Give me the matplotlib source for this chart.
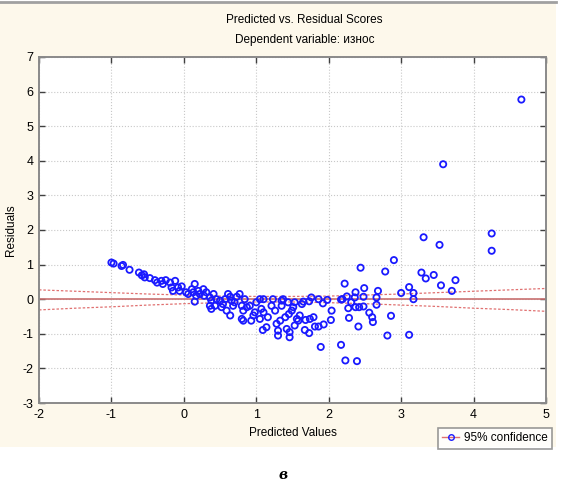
import numpy as np
import matplotlib
matplotlib.use("Agg")
from matplotlib import pyplot as plt
from matplotlib.lines import Line2D
from matplotlib.patches import Rectangle

plt.rcParams["font.family"] = ["Liberation Sans", "DejaVu Sans"]
plt.rcParams["axes.unicode_minus"] = False

# Predicted values (x) and residuals (y)
pred = [
    -1.00, -0.97, -0.86, -0.84, -0.75, -0.62, -0.58, -0.54, -0.55, -0.47,
    -0.40, -0.37, -0.31, -0.29, -0.25, -0.19, -0.17, -0.12, -0.15, -0.08,
    -0.06, -0.03, 0.03, 0.06, 0.11, 0.15, 0.13, 0.17, 0.20, 0.22,
    0.15, 0.27, 0.28, 0.31, 0.36, 0.38, 0.41, 0.36, 0.38, 0.43,
    0.45, 0.50, 0.52, 0.54, 0.57, 0.61, 0.64, 0.66, 0.68, 0.59,
    0.64, 0.70, 0.73, 0.77, 0.80, 0.82, 0.84, 0.80, 0.82, 0.87,
    0.91, 0.93, 0.96, 0.98, 1.00, 1.05, 1.05, 1.07, 1.10, 1.10,
    1.09, 1.14, 1.16, 1.21, 1.23, 1.26, 1.28, 1.30, 1.30, 1.33,
    1.35, 1.35, 1.37, 1.40, 1.42, 1.44, 1.45, 1.46, 1.46, 1.49,
    1.51, 1.53, 1.53, 1.56, 1.58, 1.60, 1.63,
    1.65, 1.73, 1.76, 1.79, 1.68, 1.74, 1.81, 1.86, 1.93, 1.67,
    1.73, 1.89, 1.98, 1.86, 1.92, 2.03, 2.04, 2.17, 2.19, 2.17,
    2.27, 2.42, 2.48, 2.37, 2.25, 2.36, 2.31, 2.48, 2.66, 2.22,
    2.49, 2.37, 2.68, 2.56, 2.60, 2.61, 2.28, 2.41, 2.86, 2.66,
    2.81, 2.23, 2.39, 2.44, 2.78, 2.90, 3.00, 3.11, 3.17, 3.17,
    3.11, 3.28, 3.34, 3.45, 3.55, 3.70, 3.75, 3.31, 3.53, 4.25,
    4.25, 3.58, 4.66,
]
resid = [
    1.06, 1.03, 0.96, 0.99, 0.85, 0.77, 0.69, 0.63, 0.72, 0.61,
    0.55, 0.48, 0.53, 0.44, 0.55, 0.48, 0.34, 0.53, 0.24, 0.34,
    0.24, 0.37, 0.20, 0.15, 0.29, 0.44, 0.20, 0.10, 0.24, 0.15,
    -0.07, 0.29, 0.10, 0.20, 0.05, -0.04, 0.15, -0.19, -0.28, -0.19,
    0.00, -0.04, -0.23, -0.14, 0.00, 0.15, 0.07, -0.04, -0.19, -0.33,
    -0.47, -0.09, 0.07, 0.15, -0.19, -0.33, 0.00, -0.57, -0.62, -0.23,
    -0.19, -0.62, -0.47, -0.38, -0.09, 0.00, -0.57, -0.28, 0.00, -0.38,
    -0.89, -0.81, -0.52, -0.19, 0.00, -0.33, -0.71, -0.91, -1.05, -0.62,
    -0.04, -0.19, 0.00, -0.52, -0.86, -0.09, -0.43, -0.95, -1.10, -0.33,
    -0.23, -0.09, -0.76, -0.57, -0.62, -0.47, -0.14,
    -0.07, -0.06, 0.05, -0.52, -0.60, -0.57, -0.79, -0.79, -0.73, -0.89,
    -0.98, -1.38, -0.02, 0.00, -0.12, -0.60, -0.33, -0.01, 0.00, -1.32,
    -0.26, -0.23, -0.21, -0.23, 0.08, 0.05, -0.09, 0.07, 0.05, 0.45,
    0.32, 0.20, 0.24, -0.39, -0.52, -0.66, -0.54, -0.79, -0.48, -0.16,
    -1.05, -1.77, -1.79, 0.91, 0.80, 1.13, 0.18, 0.35, 0.18, 0.00,
    -1.03, 0.77, 0.60, 0.70, 0.40, 0.24, 0.55, 1.79, 1.57, 1.90,
    1.40, 3.90, 5.77,
]

# 95% confidence band around the zero residual line
band_x = [-2.0, -1.5, -1.0, -0.5, 0.0, 0.5, 1.0, 1.5, 2.0, 2.5, 3.0, 3.5, 4.0, 4.5, 5.0]
band_hi = [0.27, 0.23, 0.19, 0.15, 0.12, 0.09, 0.08, 0.08, 0.09, 0.12, 0.15, 0.19, 0.23, 0.27, 0.31]
band_lo = [-0.31, -0.26, -0.22, -0.17, -0.13, -0.10, -0.08, -0.08, -0.10, -0.13, -0.17, -0.21, -0.26, -0.30, -0.35]

fig = plt.figure(figsize=(5.69, 4.86), dpi=100, facecolor="white")

# cream panel of the original screenshot
fig.patches.append(Rectangle((0, 39 / 486), 556 / 569, 447 / 486 - 0.004,
                             transform=fig.transFigure, facecolor="#fdf8eb",
                             edgecolor="none", zorder=-10))
fig.add_artist(Line2D([0, 556 / 569], [0.995, 0.995], transform=fig.transFigure,
                      color="#a0a0a0", lw=2))

ax = fig.add_axes([39 / 569, 1 - 403 / 486, (546 - 39) / 569, (403 - 57) / 486])
ax.set_facecolor("white")

ax.plot([-2, 5], [0, 0], color="#c87070", lw=1.2, zorder=2)
ax.plot(band_x, band_hi, color="#e07070", lw=0.9, ls=(0, (2, 1.5)), zorder=2)
ax.plot(band_x, band_lo, color="#e07070", lw=0.9, ls=(0, (2, 1.5)), zorder=2)
ax.scatter(pred, resid, s=20, facecolors="none", edgecolors="#1a1aff",
           linewidths=1.3, zorder=3)

ax.set_xlim(-2, 5)
ax.set_ylim(-3, 7)
ax.set_xticks(range(-2, 6))
ax.set_yticks(range(-3, 8))
ax.grid(True, color="#c8c8c8", ls=":", lw=0.8)
ax.tick_params(direction="in", top=True, right=True, length=4, width=1,
               color="#404040", labelsize=9, pad=4)
for sp in ax.spines.values():
    sp.set_color("#8a8a8a")
    sp.set_linewidth(1.4)

ax.set_xlabel("Predicted Values", fontsize=8.5, labelpad=5)
ax.set_ylabel("Residuals", fontsize=8.5, labelpad=4)
fig.text(0.535, 1 - 20 / 486, "Predicted vs. Residual Scores", ha="center",
         va="center", fontsize=8.5)
fig.text(0.535, 1 - 40 / 486, "Dependent variable: износ", ha="center",
         va="center", fontsize=8.5)

handle = Line2D([], [], color="#e07070", lw=1, marker="o", markersize=4,
                markerfacecolor="none", markeredgecolor="#1a1aff")
leg = fig.legend([handle], ["95% confidence"], loc="lower right",
                 bbox_to_anchor=(552 / 569, 1 - 449 / 486), fontsize=8.5,
                 frameon=True, fancybox=False, borderpad=0.4,
                 handlelength=1.4, handletextpad=0.4, borderaxespad=0)
leg.get_frame().set_edgecolor("#808080")
leg.get_frame().set_linewidth(1.2)
leg.get_frame().set_facecolor("white")

fig.text(283 / 569, 1 - 475 / 486, "в", ha="center", va="center",
         fontsize=10, fontstyle="italic", fontweight="bold",
         family=["DejaVu Serif"])

fig.savefig("out.png", dpi=100, facecolor=fig.get_facecolor())
